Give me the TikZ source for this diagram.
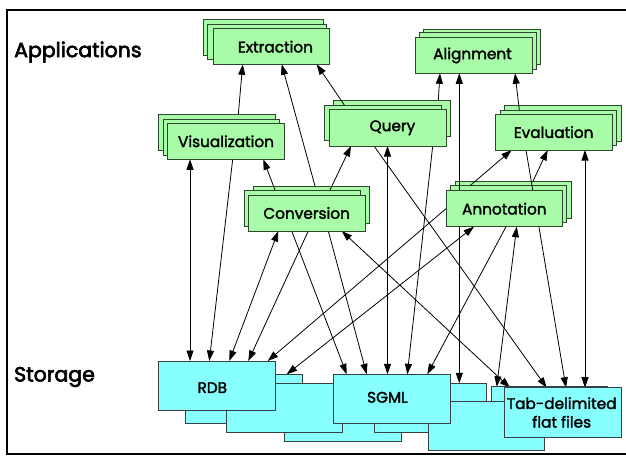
\documentclass[tikz,border=0pt]{standalone}
\usepackage{fontspec}
\setmainfont{Poppins}
\newfontfamily\boxfont{Poppins}[FakeBold=2]
\newfontfamily\sidefont{Poppins}[FakeBold=3]
\usetikzlibrary{arrows.meta}
\definecolor{gfill}{RGB}{168,252,168}
\definecolor{gborder}{RGB}{45,70,45}
\definecolor{cfill}{RGB}{136,255,255}
\definecolor{cborder}{RGB}{55,65,65}
\begin{document}
\begin{tikzpicture}[x=1pt,y=-1pt,
  app/.style={draw=gborder, fill=gfill, line width=1pt, inner sep=0pt, outer sep=0pt, anchor=north west},
  sto/.style={draw=cborder, fill=cfill, line width=1pt, inner sep=0pt, outer sep=0pt, anchor=north west},
  lbl/.style={font=\boxfont\fontsize{15.3}{18.6}\selectfont, inner sep=0pt, text=black},
  side/.style={font=\sidefont\fontsize{20.5}{24}\selectfont, inner sep=0pt, anchor=west},
  conn/.style={line width=0.8pt, -{Triangle[length=10.5pt,width=7pt]}},
  biconn/.style={line width=0.8pt, {Triangle[length=10.5pt,width=7pt]}-{Triangle[length=10.5pt,width=7pt]}}]
\useasboundingbox (0,0) rectangle (626,460);
\fill[white] (0,0) rectangle (626,460);
\draw[line width=2pt] (630,10) -- (7,10) -- (7,454) -- (630,454);

\node[side] (apps) at (14,52) {Applications};
\node[side] (stor) at (14,377) {Storage};

% back rectangles of application stacks
\node[app, minimum width=120pt, minimum height=35.7pt] (extA) at (203.3,20) {};
\node[app, minimum width=118.7pt, minimum height=35.7pt] (extB) at (207.3,24.3) {};
\node[app, minimum width=116.7pt, minimum height=35.7pt] (alnA) at (423.3,29.3) {};
\node[app, minimum width=116.7pt, minimum height=36.3pt] (alnB) at (419.3,33) {};
\node[app, minimum width=116.7pt, minimum height=36.4pt] (vizA) at (158.3,114.3) {};
\node[app, minimum width=116pt, minimum height=36pt] (vizB) at (163.3,119) {};
\node[app, minimum width=116.7pt, minimum height=36.7pt] (qryA) at (333.3,100) {};
\node[app, minimum width=117.4pt, minimum height=35pt] (qryB) at (324.3,105) {};
\node[app, minimum width=116.7pt, minimum height=36.4pt] (evlA) at (504.3,105.3) {};
\node[app, minimum width=116.7pt, minimum height=35.7pt] (evlB) at (500,110) {};
\node[app, minimum width=116.7pt, minimum height=36.3pt] (annA) at (455,181.7) {};
\node[app, minimum width=116pt, minimum height=37pt] (annB) at (450.7,185.7) {};
\node[app, minimum width=116pt, minimum height=37.3pt] (cnvA) at (253.3,186) {};
\node[app, minimum width=116.4pt, minimum height=36pt] (cnvB) at (244.3,190) {};

% front rectangles as anchors for the connectors (drawn later)
\path
  node[app, draw=none, fill=none, minimum width=116.3pt, minimum height=35.3pt] (ext) at (213,29) {}
  node[app, draw=none, fill=none, minimum width=117pt, minimum height=35.8pt] (aln) at (415,37.5) {}
  node[app, draw=none, fill=none, minimum width=116.6pt, minimum height=36pt] (viz) at (167.7,123.3) {}
  node[app, draw=none, fill=none, minimum width=116.7pt, minimum height=36.5pt] (qry) at (329.3,109.5) {}
  node[app, draw=none, fill=none, minimum width=117.3pt, minimum height=35.7pt] (evl) at (495,114.3) {}
  node[app, draw=none, fill=none, minimum width=116.7pt, minimum height=36pt] (ann) at (446,190.7) {}
  node[app, draw=none, fill=none, minimum width=116.7pt, minimum height=36pt] (cnv) at (248.3,195) {}
  node[sto, draw=none, fill=none, minimum width=117.4pt, minimum height=49.7pt] (rdb) at (158.3,361) {}
  node[sto, draw=none, fill=none, minimum width=116.6pt, minimum height=49pt] (rdbB) at (185.7,374.3) {}
  node[sto, draw=none, fill=none, minimum width=112.4pt, minimum height=49.4pt] (sgmB) at (374.3,383.3) {}
  node[sto, draw=none, fill=none, minimum width=116.7pt, minimum height=49pt] (sgml) at (333.3,374.3) {}
  node[sto, draw=none, fill=none, minimum width=116pt, minimum height=49pt] (tabB) at (491.7,386.7) {}
  node[sto, draw=none, fill=none, minimum width=117.4pt, minimum height=49.6pt] (tab) at (504.3,387.7) {};

% connectors
\draw[conn] ([xshift=80pt]vizA.north west) -- ([xshift=29.7pt]ext.south west);
\draw[conn] ([xshift=61.7pt]cnvA.north west) -- ([xshift=68.7pt]ext.south west);
\draw[conn] ([xshift=20pt]qryB.north west) -- ([xshift=103.7pt]ext.south west);
\draw[conn] ([xshift=105pt]qryA.north west) -- ([xshift=25pt]aln.south west);
\draw[biconn] ([xshift=85pt]sgmB.north west) -- ([xshift=44.3pt]aln.south west);
\draw[conn] ([xshift=19.3pt]evlB.north west) -- ([xshift=100pt]aln.south west);
\draw[conn] ([xshift=30.7pt]cnvB.north west) -- ([xshift=95.6pt]viz.south west);
\draw[conn] ([xshift=85.7pt]cnvB.north west) -- ([xshift=21.7pt]qry.south west);
\draw[conn] ([xshift=19.3pt]annB.north west) -- ([xshift=16.7pt]evl.south west);
\draw[conn] ([xshift=77.7pt]annA.north west) -- ([xshift=52.7pt]evl.south west);
\draw[conn] ([xshift=31pt]evl.south west) -- ([xshift=61.7pt]tab.north west);
\draw[biconn] ([xshift=90pt]evl.south west) -- ([xshift=80.7pt]tab.north west);
\draw[biconn] ([xshift=22.3pt]viz.south west) -- ([xshift=31.7pt]rdb.north west);
\draw[conn] ([xshift=65pt]viz.south west) -- ([xshift=51pt]rdb.north west);
\draw[biconn] ([xshift=30pt]cnv.south west) -- ([xshift=71pt]rdb.north west);
\draw[conn] ([xshift=60pt]cnv.south west) -- ([xshift=90pt]rdb.north west);
\draw[conn] (ann.west) -- ([xshift=109.4pt]rdb.north west);
\draw[biconn] ([xshift=28pt]ann.south west) -- ([xshift=101pt]rdbB.north west);
\draw[conn] ([xshift=43.4pt]cnv.south west) -- ([xshift=13.4pt]sgml.north west);
\draw[conn] ([xshift=80pt]cnv.south west) -- ([xshift=33.4pt]sgml.north west);
\draw[biconn] ([xshift=58.2pt]qry.south west) -- ([xshift=54.2pt]sgml.north west);
\draw[conn] ([xshift=103.4pt]qry.south west) -- ([xshift=74pt]sgml.north west);
\draw[conn] ([xshift=60pt]ann.south west) -- ([xshift=94pt]sgml.north west);
\draw[biconn] ([xshift=93.4pt]cnv.south west) -- ([xshift=5.7pt]tab.north west);
\draw[conn] ([xshift=44.7pt]qry.south west) -- ([xshift=42.4pt]tab.north west);
\draw[biconn] ([xshift=70.7pt]ann.south west) -- ([xshift=5pt]tabB.north west);

% front application rectangles
\node[app, minimum width=116.3pt, minimum height=35.3pt, label={[lbl,xshift=4.3pt]center:Extraction}] (extF) at (213,29) {};
\node[app, minimum width=117pt, minimum height=35.8pt, label={[lbl,xshift=-1pt]center:Alignment}] (alnF) at (415,37.5) {};
\node[app, minimum width=116.6pt, minimum height=36pt, label={[lbl]center:Visualization}] (vizF) at (167.7,123.3) {};
\node[app, minimum width=116.7pt, minimum height=36.5pt, label={[lbl,xshift=4.8pt]center:Query}] (qryF) at (329.3,109.5) {};
\node[app, minimum width=117.3pt, minimum height=35.7pt, label={[lbl]center:Evaluation}] (evlF) at (495,114.3) {};
\node[app, minimum width=116.7pt, minimum height=36pt, label={[lbl]center:Annotation}] (annF) at (446,190.7) {};
\node[app, minimum width=116.7pt, minimum height=36pt, label={[lbl]center:Conversion}] (cnvF) at (248.3,195) {};

% storage stacks
\node[sto, minimum width=117.4pt, minimum height=49pt] (rdbD) at (284.3,392.7) {};
\node[sto, minimum width=116.6pt, minimum height=49pt] (rdbBF) at (185.7,374.3) {};
\node[sto, minimum width=116.7pt, minimum height=49.4pt] (rdbC) at (226,383.3) {};
\node[sto, minimum width=117.4pt, minimum height=49.7pt, label={[lbl,xshift=-4.7pt,yshift=-1.8pt]center:RDB}] (rdbF) at (158.3,361) {};
\node[sto, minimum width=112.4pt, minimum height=49.4pt] (sgmBF) at (374.3,383.3) {};
\node[sto, minimum width=116pt, minimum height=49pt] (tabBF) at (491.7,386.7) {};
\node[sto, minimum width=115.7pt, minimum height=49pt] (sgmC) at (428.3,401) {};
\node[sto, minimum width=116.7pt, minimum height=49pt, label={[lbl,xshift=-4.2pt,yshift=1.5pt]center:SGML}] (sgmlF) at (333.3,374.3) {};
\node[sto, minimum width=117.4pt, minimum height=49.6pt, label={[lbl,align=center,xshift=-1.3pt]center:{Tab-delimited\\flat files}}] (tabF) at (504.3,387.7) {};
\end{tikzpicture}
\end{document}
